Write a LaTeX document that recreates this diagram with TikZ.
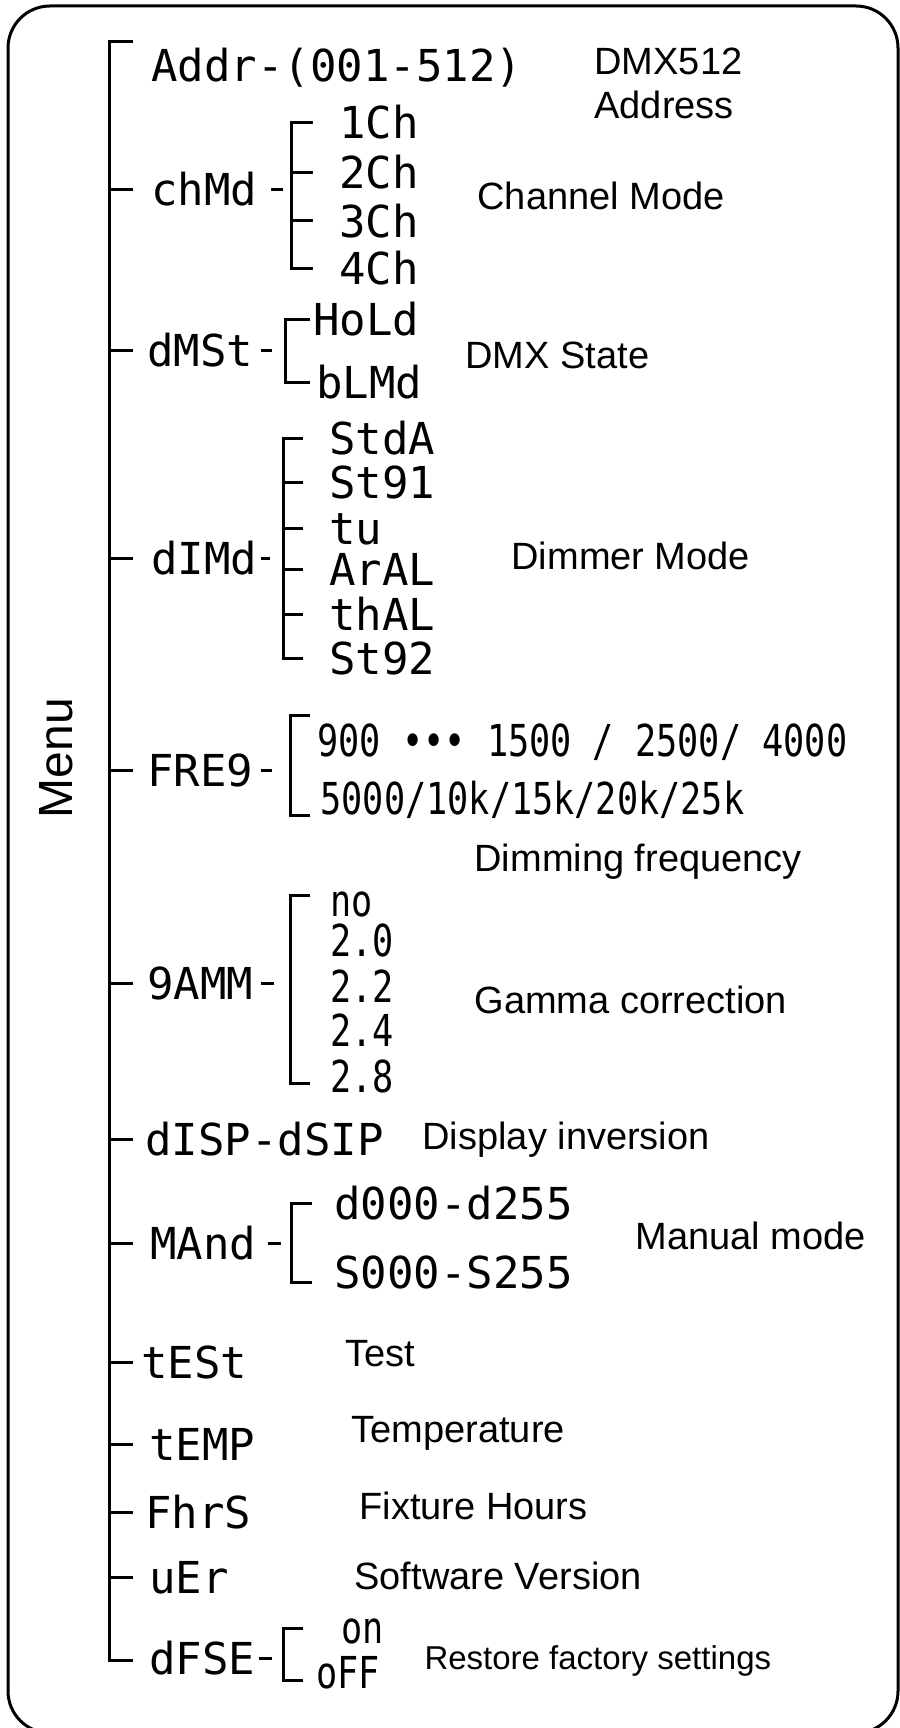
\documentclass[tikz,border=0pt]{standalone}
\usepackage{fontspec}
\setmainfont{Liberation Sans}
\newfontfamily\segfont{DejaVu Sans Mono}
\newfontfamily\segnarrow[FakeStretch=0.8]{DejaVu Sans Mono}
\begin{document}
\begin{tikzpicture}[x=1pt,y=-1pt,line width=3pt,
  seg/.style={font=\segfont\fontsize{44}{44}\selectfont,anchor=west,inner sep=0pt,text height=32pt,text depth=0pt},
  segn/.style={font=\segnarrow\fontsize{44}{44}\selectfont,anchor=west,inner sep=0pt,text height=32pt,text depth=0pt},
  lab/.style={font=\fontsize{38}{44}\selectfont,anchor=west,inner sep=0pt,text height=27pt,text depth=0pt},
  labs/.style={font=\fontsize{33}{38}\selectfont,anchor=west,inner sep=0pt,text height=23.5pt,text depth=0pt}]
\useasboundingbox (0,0) rectangle (899,1728);
\fill[white] (0,0) rectangle (899,1728);
\draw[line width=3pt,rounded corners=42pt] (8,6) rectangle (898,1733);

% Menu
\node[font=\fontsize{48}{48}\selectfont,rotate=90,inner sep=0pt] (menu) at (56,758) {Menu};

% main line
\coordinate (mt) at (109,42);
\coordinate (mb) at (109,1660);
\coordinate (mx) at (133,0);
\draw (mt -| mx) -- (mt) -- (mb) -- (mb -| mx);

% codes
\node[seg] (addr) at (150,66) {Addr-(001-512)};
\node[seg] (chmd) at (150,190) {chMd};
\node[seg] (dmst) at (146,350) {dMSt};
\node[seg] (dimd) at (150,558) {dIMd};
\node[seg] (freq) at (146,770) {FRE9};
\node[seg] (gamm) at (146,983) {9AMM};
\node[seg] (disp) at (144,1139) {dISP-dSIP};
\node[seg] (mand) at (149,1243) {MAnd};
\node[seg] (test) at (140,1362) {tESt};
\node[seg] (temp) at (148,1444) {tEMP};
\node[seg] (fhrs) at (144,1512) {FhrS};
\node[seg] (uer) at (148,1577) {uEr};
\node[seg] (dfse) at (148,1658) {dFSE};

\foreach \n in {chmd,dmst,dimd,freq,gamm,disp,mand,test,temp,fhrs,uer}
  \draw (\n.west -| mt) -- (\n.west -| mx);

% channel mode group
\coordinate (cb) at (291,0);
\coordinate (cx) at (313,0);
\node[seg] (c1) at (338,123) {1Ch};
\node[seg] (c2) at (338,173) {2Ch};
\node[seg] (c3) at (338,221) {3Ch};
\node[seg] (c4) at (338,268) {4Ch};
\draw (c1.west -| cx) -- (c1.west -| cb) -- (c4.west -| cb) -- (c4.west -| cx);
\foreach \n in {c2,c3} \draw (\n.west -| cb) -- (\n.west -| cx);
\draw[shorten <=12pt,shorten >=8pt] (chmd.east) -- (chmd.east -| cb);

% DMX state group
\coordinate (sb) at (285,0);
\coordinate (sx) at (310,0);
\node[seg] (hold) at (312,319) {HoLd};
\node[seg] (blmd) at (315,382) {bLMd};
\draw (hold.west -| sx) -- (hold.west -| sb) -- (blmd.west -| sb) -- (blmd.west -| sx);
\draw[shorten <=6pt,shorten >=13pt] (dmst.east) -- (dmst.east -| sb);

% dimmer mode group
\coordinate (db) at (283,0);
\coordinate (dx) at (303,0);
\node[seg] (m1) at (328,438) {StdA};
\node[seg] (m2) at (328,482) {St91};
\node[seg] (m3) at (328,528) {tu};
\node[seg] (m4) at (328,569) {ArAL};
\node[seg] (m5) at (328,614) {thAL};
\node[seg] (m6) at (328,658) {St92};
\draw (m1.west -| dx) -- (m1.west -| db) -- (m6.west -| db) -- (m6.west -| dx);
\foreach \n in {m2,m3,m4,m5} \draw (\n.west -| db) -- (\n.west -| dx);
\draw[shorten <=2pt,shorten >=13pt] (dimd.east) -- (dimd.east -| db);

% frequency group
\coordinate (fT) at (290,715);
\coordinate (fB) at (290,815);
\coordinate (fx) at (310,0);
\node[segn] (f1) at (316,740) {900 ••• 1500 / 2500/ 4000};
\node[segn] (f2) at (319,798) {5000/10k/15k/20k/25k};
\draw (fT -| fx) -- (fT) -- (fB) -- (fB -| fx);
\draw[shorten <=6pt,shorten >=18pt] (freq.east) -- (freq.east -| fT);

% gamma group
\coordinate (gT) at (290,895);
\coordinate (gB) at (290,1083);
\coordinate (gx) at (310,0);
\node[segn] (g1) at (329,900) {no};
\node[segn] (g2) at (329,940) {2.0};
\node[segn] (g3) at (329,986) {2.2};
\node[segn] (g4) at (329,1030) {2.4};
\node[segn] (g5) at (329,1076) {2.8};
\draw (gT -| gx) -- (gT) -- (gB) -- (gB -| gx);
\draw[shorten <=6pt,shorten >=16pt] (gamm.east) -- (gamm.east -| gT);

% manual group
\coordinate (nT) at (291,1203);
\coordinate (nB) at (291,1282);
\coordinate (nx) at (312,0);
\node[seg] (n1) at (333,1203) {d000-d255};
\node[seg] (n2) at (333,1272) {S000-S255};
\draw (nT -| nx) -- (nT) -- (nB) -- (nB -| nx);
\draw[shorten <=10pt,shorten >=10pt] (mand.east) -- (mand.east -| nT);

% factory group
\coordinate (rT) at (283,1628);
\coordinate (rB) at (283,1680);
\coordinate (rx) at (303,0);
\node[segn] (on) at (340,1627) {on};
\node[segn] (off) at (315,1672) {oFF};
\draw (rT -| rx) -- (rT) -- (rB) -- (rB -| rx);
\draw[shorten <=2pt,shorten >=11pt] (dfse.east) -- (dfse.east -| rT);

% labels
\node[font=\fontsize{38}{44}\selectfont,anchor=north west,inner sep=0pt,align=left] (laddr) at (593,46) {DMX512\\Address};
\node[lab] (lchan) at (476,196) {Channel Mode};
\node[lab] (lstate) at (464,355) {DMX State};
\node[lab] (ldim) at (510,556) {Dimmer Mode};
\node[lab] (lfreq) at (473,858) {Dimming frequency};
\node[lab] (lgam) at (473,1000) {Gamma correction};
\node[lab] (ldisp) at (421,1136) {Display inversion};
\node[lab] (lman) at (634,1236) {Manual mode};
\node[lab] (ltest) at (344,1353) {Test};
\node[lab] (ltemp) at (350,1429) {Temperature};
\node[lab] (lfix) at (358,1506) {Fixture Hours};
\node[lab] (lsoft) at (353,1576) {Software Version};
\node[labs] (lrest) at (423,1658) {Restore factory settings};
\end{tikzpicture}
\end{document}
